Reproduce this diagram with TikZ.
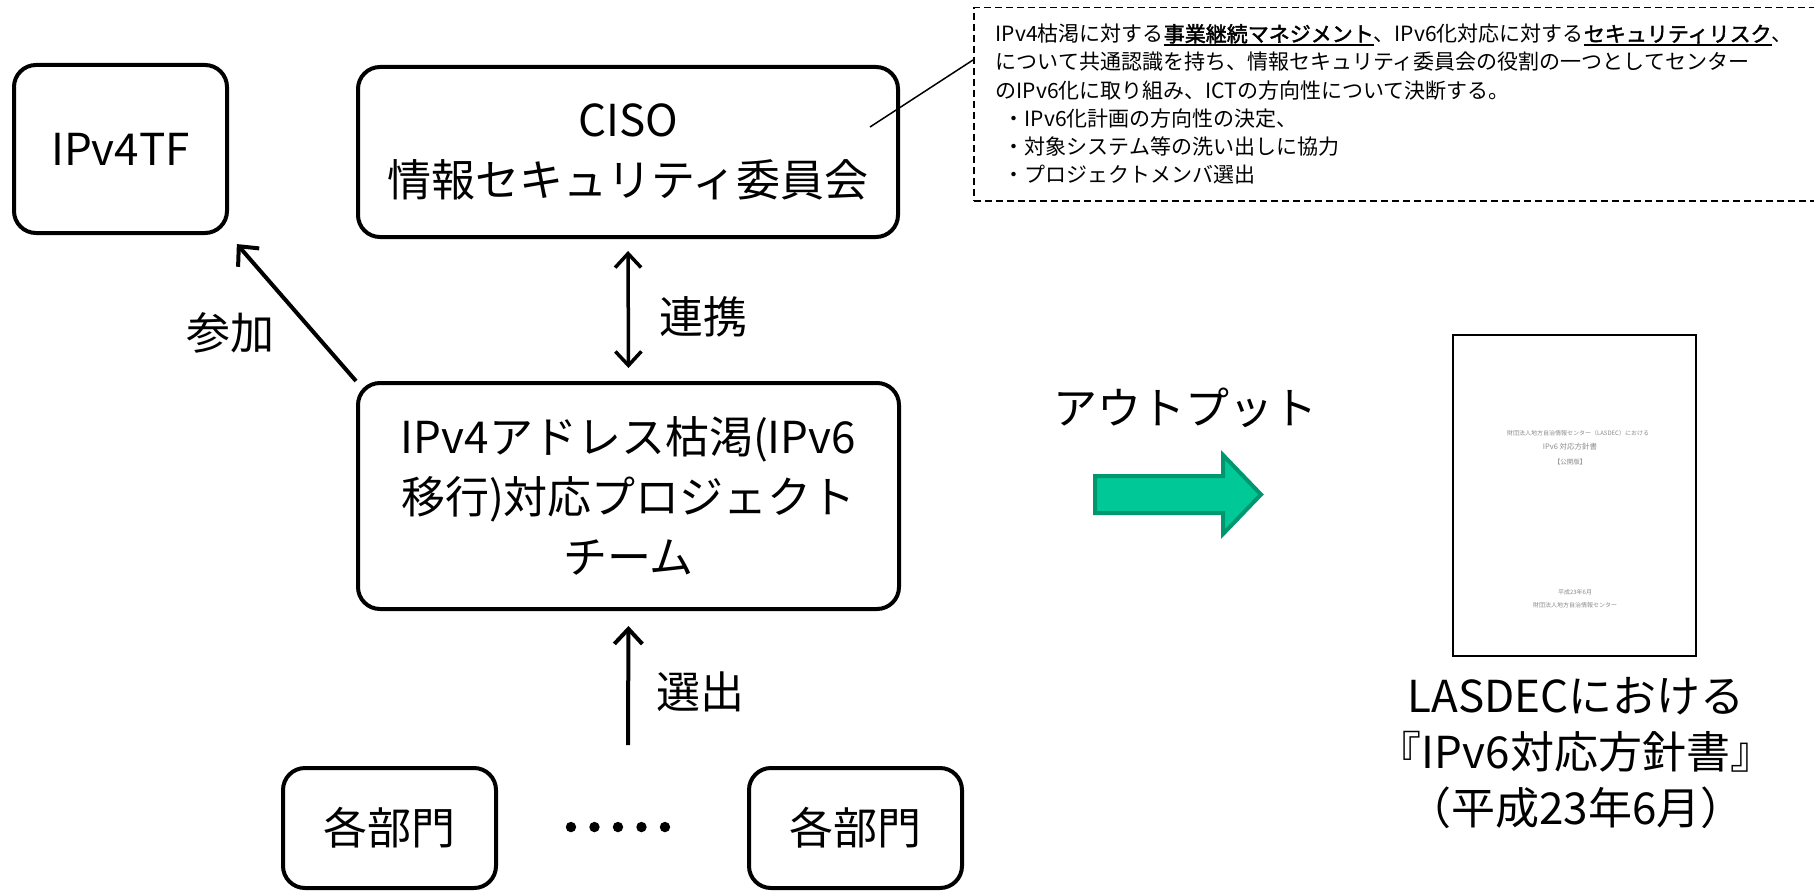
\documentclass[tikz,border=0pt]{standalone}
\usepackage{fontspec}
\setmainfont{Noto Sans CJK JP}
\newfontfamily\cjkbold[FakeBold=2]{Noto Sans CJK JP}
\newfontfamily\dotfont[FakeBold=5]{Noto Sans CJK JP}
\usetikzlibrary{arrows.meta,calc}
\definecolor{arrfill}{RGB}{0,200,150}
\definecolor{arrline}{RGB}{0,150,110}
\newcommand\diagbig{\fontsize{44}{60}\selectfont}
\newcommand\diagsmall{\fontsize{21}{28.2}\selectfont}
\newsavebox\ulsave
\newcommand\ulbold[1]{\sbox\ulsave{\cjkbold #1}\rlap{\rule[-4pt]{\wd\ulsave}{1.6pt}}\usebox\ulsave}
\begin{document}
\begin{tikzpicture}[x=1pt,y=-1pt,
  box/.style={draw,line width=4pt,rounded corners=22pt,inner sep=0pt,align=center,font=\diagbig},
  lbl/.style={inner sep=0pt,font=\diagbig},
  arr/.style={line width=4pt,-{Straight Barb[length=15pt,width=28pt]}},
  dblarr/.style={line width=3.5pt,{Straight Barb[length=14pt,width=26pt]}-{Straight Barb[length=14pt,width=26pt]}},
  bigarrow/.style={draw=arrline,fill=arrfill,line width=4pt,line join=miter},
  tiny/.style={inner sep=0pt,text=black!45}]
\path[fill=white] (0,0) rectangle (1814,891);
\useasboundingbox (0,0) rectangle (1814,891);

% main boxes
\node[box,minimum width=213pt,minimum height=168pt] (tf) at (120.5,149) {IPv4TF};
\node[box,minimum width=540pt,minimum height=170pt] (ciso) at (628,152) {CISO\\情報セキュリティ委員会};
\node[box,minimum width=541pt,minimum height=226pt] (proj) at (628.5,496) {IPv4アドレス枯渇(IPv6\\移行)対応プロジェクト\\チーム};
\node[box,minimum width=213pt,minimum height=120pt] (dep1) at (389.5,828) {各部門};
\node[box,minimum width=213pt,minimum height=120pt] (dep2) at (855.5,828) {各部門};
\node[lbl,font=\fontsize{47}{47}\selectfont\dotfont] (dots) at (618,834) {･････};

% connectors
\draw[arr,shorten >=12pt] (proj.north west) -- (tf.south east);
\draw[dblarr,shorten <=12pt,shorten >=13pt] (ciso.south) -- (proj.north);
\coordinate (selfrom) at (628,745);
\draw[arr,shorten >=15pt] (selfrom) -- (proj.south);

% labels
\node[lbl] (lsanka) at (230,333) {参加};
\node[lbl] (lrenkei) at (703,317) {連携};
\node[lbl] (lsenshutsu) at (700,692) {選出};
\node[lbl] (lout) at (1185,408) {アウトプット};

% output arrow
\draw[bigarrow] (1095,476) -- (1223,476) -- (1223,455) -- (1261,494.5) -- (1223,534) -- (1223,513) -- (1095,513) -- cycle;

% document thumbnail
\node[draw,line width=2pt,minimum width=243pt,minimum height=321pt,inner sep=0pt] (doc) at (1574.5,495.5) {};
\node[tiny,font=\fontsize{6}{6}\selectfont] (d1) at (1578,433) {財団法人地方自治情報センター（LASDEC）における};
\node[tiny,font=\fontsize{7.5}{7.5}\selectfont] (d2) at (1570,447) {IPv6 対応方針書};
\node[tiny,font=\fontsize{6.5}{6.5}\selectfont] (d3) at (1570,462) {【公開版】};
\node[tiny,font=\fontsize{6}{6}\selectfont] (d4) at (1575,592) {平成23年6月};
\node[tiny,font=\fontsize{6}{6}\selectfont] (d5) at (1575,605) {財団法人地方自治情報センター};

\node[lbl,align=center,font=\fontsize{44}{56}\selectfont] (cap) at (1576,753) {LASDECにおける\\『IPv6対応方針書』\\（平成23年6月）};

% callout
\node[draw,line width=1.5pt,dash pattern=on 7pt off 4pt,minimum width=924pt,minimum height=193pt,
      text width=880pt,inner xsep=22pt,inner ysep=0pt,align=left,font=\diagsmall,anchor=north west] (callout) at (973,7) {%
IPv4枯渇に対する\ulbold{事業継続マネジメント}、IPv6化対応に対する\ulbold{セキュリティリスク}、\\
について共通認識を持ち、情報セキュリティ委員会の役割の一つとしてセンター\\
のIPv6化に取り組み、ICTの方向性について決断する。\\
\hspace*{8pt}・IPv6化計画の方向性の決定、\\
\hspace*{8pt}・対象システム等の洗い出しに協力\\
\hspace*{8pt}・プロジェクトメンバ選出};
\coordinate (cisoin) at (870,127);
\draw[line width=1.5pt] (cisoin) -- ($(callout.north west)+(0,53)$);
\end{tikzpicture}
\end{document}
